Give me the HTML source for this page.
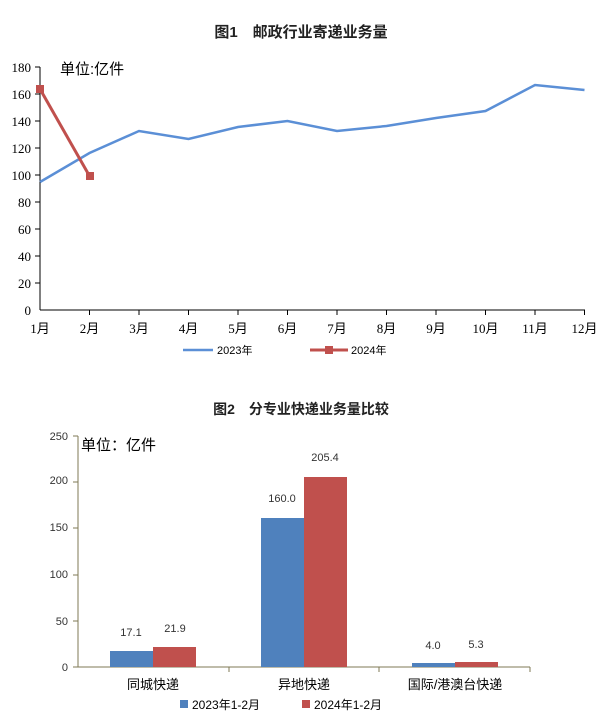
<!DOCTYPE html>
<html><head><meta charset="utf-8"><style>
body{margin:0;background:#fff;}
svg text{font-family:"Liberation Sans","Noto Sans CJK SC",sans-serif;}
.s text{font-family:"Liberation Serif","Noto Sans CJK SC",serif;}
</style></head><body>
<svg width="603" height="722" xmlns="http://www.w3.org/2000/svg">
<text x="301" y="37" font-size="15" text-anchor="middle" font-weight="bold" fill="#222">图1　邮政行业寄递业务量</text>
<text x="60" y="74" font-size="15" fill="#000">单位:亿件</text>
<g font-size="13" fill="#000" text-anchor="end" class="s">
<text x="31" y="72">180</text><text x="31" y="99">160</text><text x="31" y="126">140</text><text x="31" y="153">120</text><text x="31" y="180">100</text><text x="31" y="207">80</text><text x="31" y="234">60</text><text x="31" y="261">40</text><text x="31" y="288">20</text><text x="31" y="315">0</text>
</g>
<g stroke="#000" stroke-width="1">
<line x1="40" y1="67" x2="40" y2="310"/><line x1="40" y1="310" x2="585" y2="310"/>
<line x1="35" y1="67" x2="40" y2="67"/><line x1="35" y1="94" x2="40" y2="94"/><line x1="35" y1="121" x2="40" y2="121"/><line x1="35" y1="148" x2="40" y2="148"/><line x1="35" y1="175" x2="40" y2="175"/><line x1="35" y1="202" x2="40" y2="202"/><line x1="35" y1="229" x2="40" y2="229"/><line x1="35" y1="256" x2="40" y2="256"/><line x1="35" y1="283" x2="40" y2="283"/>
<line x1="89.5" y1="310" x2="89.5" y2="315"/><line x1="139" y1="310" x2="139" y2="315"/><line x1="188.5" y1="310" x2="188.5" y2="315"/><line x1="238" y1="310" x2="238" y2="315"/><line x1="287.5" y1="310" x2="287.5" y2="315"/><line x1="337" y1="310" x2="337" y2="315"/><line x1="386.5" y1="310" x2="386.5" y2="315"/><line x1="436" y1="310" x2="436" y2="315"/><line x1="485.5" y1="310" x2="485.5" y2="315"/><line x1="535" y1="310" x2="535" y2="315"/><line x1="584.5" y1="310" x2="584.5" y2="315"/>
</g>
<g font-size="13" fill="#000" text-anchor="middle" class="s">
<text x="40" y="333">1月</text><text x="89.5" y="333">2月</text><text x="139" y="333">3月</text><text x="188.5" y="333">4月</text><text x="238" y="333">5月</text><text x="287.5" y="333">6月</text><text x="337" y="333">7月</text><text x="386.5" y="333">8月</text><text x="436" y="333">9月</text><text x="485.5" y="333">10月</text><text x="535" y="333">11月</text><text x="584.5" y="333">12月</text>
</g>
<polyline fill="none" stroke="#5b8fd6" stroke-width="2.5" points="40,182 89.5,153 139,131 188.5,139 238,127 287.5,121 337,131 386.5,126 436,118 485.5,111 535,85 584.5,90"/>
<polyline fill="none" stroke="#c0504d" stroke-width="3" points="40,89 89.5,176"/>
<rect x="36" y="85" width="8" height="8" fill="#c0504d"/><rect x="86" y="172" width="8" height="8" fill="#c0504d"/>
<line x1="183" y1="350" x2="213" y2="350" stroke="#5b8fd6" stroke-width="2.5"/>
<text x="217" y="354" font-size="11" fill="#000">2023年</text>
<line x1="310" y1="350" x2="348" y2="350" stroke="#c0504d" stroke-width="3"/>
<rect x="325" y="346" width="8" height="8" fill="#c0504d"/>
<text x="351" y="354" font-size="11" fill="#000">2024年</text>

<text x="301" y="414" font-size="14" text-anchor="middle" font-weight="bold" fill="#222">图2　分专业快递业务量比较</text>
<g font-size="11" fill="#333" text-anchor="end">
<text x="68" y="440">250</text><text x="68" y="484">200</text><text x="68" y="531">150</text><text x="68" y="578">100</text><text x="68" y="625">50</text><text x="68" y="671">0</text>
</g>
<g stroke="#7f7a55" stroke-width="1">
<line x1="78" y1="436" x2="78" y2="667"/><line x1="78" y1="667" x2="530" y2="667"/>
<line x1="73" y1="436" x2="78" y2="436"/><line x1="73" y1="482" x2="78" y2="482"/><line x1="73" y1="528" x2="78" y2="528"/><line x1="73" y1="575" x2="78" y2="575"/><line x1="73" y1="621" x2="78" y2="621"/><line x1="73" y1="667" x2="78" y2="667"/>
<line x1="229" y1="667" x2="229" y2="672"/><line x1="379" y1="667" x2="379" y2="672"/><line x1="530" y1="667" x2="530" y2="672"/>
</g>
<text x="81" y="450" font-size="15" fill="#000">单位：亿件</text>
<rect x="110" y="651" width="43" height="16" fill="#4f81bd"/><rect x="153" y="647" width="43" height="20" fill="#c0504d"/>
<rect x="261" y="518" width="43" height="149" fill="#4f81bd"/><rect x="304" y="477" width="43" height="190" fill="#c0504d"/>
<rect x="412" y="663" width="43" height="4" fill="#4f81bd"/><rect x="455" y="662" width="43" height="5" fill="#c0504d"/>
<g font-size="11" fill="#333" text-anchor="middle">
<text x="131" y="636">17.1</text><text x="175" y="632">21.9</text><text x="282" y="502">160.0</text><text x="325" y="461">205.4</text><text x="433" y="649">4.0</text><text x="476" y="648">5.3</text>
</g>
<g font-size="13" fill="#000" text-anchor="middle">
<text x="153" y="689">同城快递</text><text x="304" y="689">异地快递</text><text x="455" y="689">国际/港澳台快递</text>
</g>
<rect x="180" y="700" width="8" height="8" fill="#4f81bd"/>
<text x="192" y="709" font-size="12" fill="#000">2023年1-2月</text>
<rect x="302" y="700" width="8" height="8" fill="#c0504d"/>
<text x="314" y="709" font-size="12" fill="#000">2024年1-2月</text>
</svg>
</body></html>
